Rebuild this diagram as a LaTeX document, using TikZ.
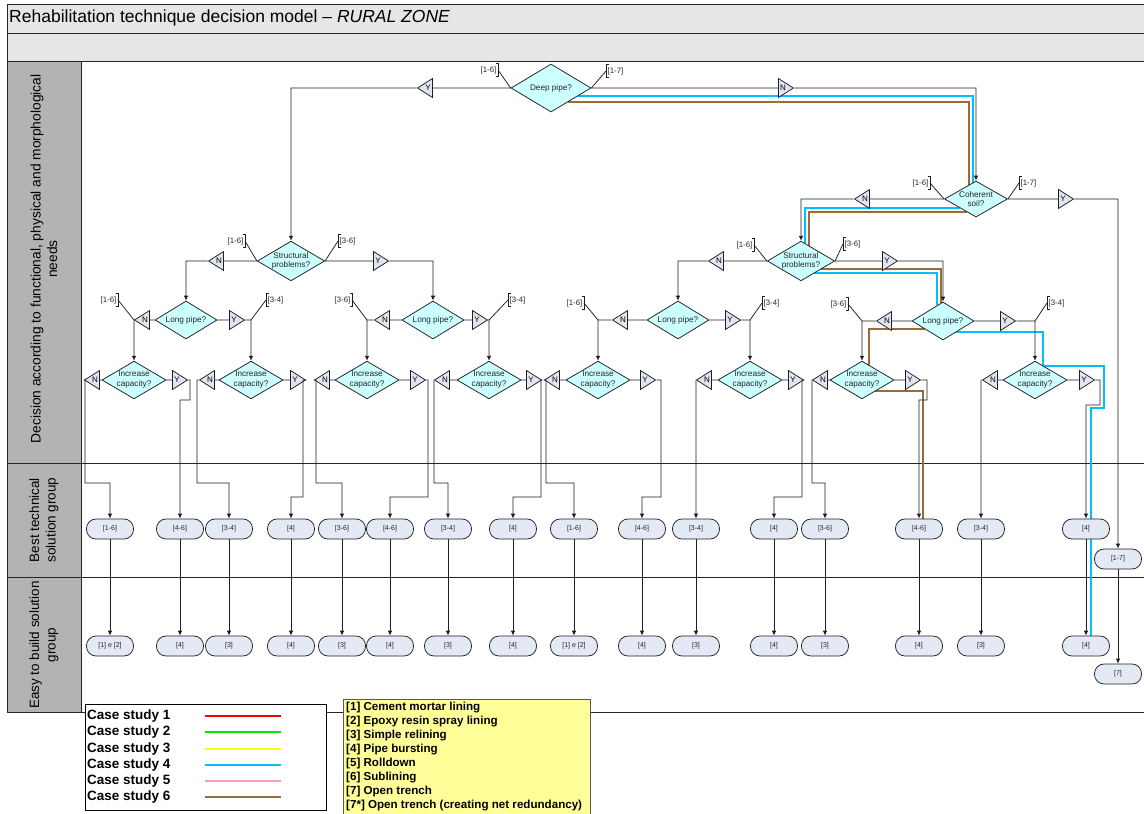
\documentclass[tikz,border=0pt]{standalone}
\usepackage{fontspec}
\setmainfont{Liberation Sans}
\usetikzlibrary{shapes.geometric,arrows.meta,calc}
\definecolor{titlegray}{HTML}{E6E6E6}
\definecolor{lanegray}{HTML}{B3B3B3}
\definecolor{diafill}{HTML}{CCFFFF}
\definecolor{trifill}{HTML}{E1E5F2}
\definecolor{boxfill}{HTML}{E4EAF5}
\definecolor{linegray}{HTML}{1F1F1F}
\definecolor{csred}{HTML}{FF0000}
\definecolor{csgreen}{HTML}{00E600}
\definecolor{csyellow}{HTML}{FFFF00}
\definecolor{csblue}{HTML}{00BFFF}
\definecolor{cspink}{HTML}{FF99CC}
\definecolor{csbrown}{HTML}{9C6A3A}
\definecolor{notefill}{HTML}{FFFF99}
\newcommand{\bkL}[4]{%
  \node[bk, anchor=east] (#1) at (#2) {#3};
  \draw[conn] ([xshift=-2.5pt]#1.north east) -- (#1.north east) -- (#1.south east) -- ([xshift=-2.5pt]#1.south east);
  \draw[conn] (#1.east) -- (#4);}
\newcommand{\bkR}[4]{%
  \node[bk, anchor=west] (#1) at (#2) {#3};
  \draw[conn] ([xshift=2.5pt]#1.north west) -- (#1.north west) -- (#1.south west) -- ([xshift=2.5pt]#1.south west);
  \draw[conn] (#1.west) -- (#4);}
\begin{document}
\begin{tikzpicture}[x=1pt,y=-1pt,
  dia/.style={diamond, aspect=1.7, draw=linegray, fill=diafill, line width=0.75pt, inner sep=0pt,
    minimum width=62pt, minimum height=37pt, align=center, text=black!85,
    font=\fontsize{8.2}{9.5}\selectfont},
  trL/.style={isosceles triangle, isosceles triangle stretches=true, shape border rotate=180,
    draw=linegray, fill=trifill, line width=0.75pt, minimum width=19pt, minimum height=15pt,
    inner sep=0pt, font=\fontsize{8}{8}\selectfont},
  trR/.style={trL, shape border rotate=0},
  sol/.style={rectangle, rounded corners=9.5pt, draw=linegray, fill=boxfill, line width=0.75pt,
    minimum width=47pt, minimum height=20pt, inner sep=0pt, font=\fontsize{7}{8}\selectfont, text=black!85},
  conn/.style={draw=linegray, line width=0.75pt},
  arr/.style={conn, -{Latex[length=5pt,width=4.5pt]}},
  bk/.style={inner xsep=1.5pt, inner ysep=0pt, minimum height=13pt, font=\fontsize{7.8}{8}\selectfont, text=black!85},
  frame/.style={draw=black!85, line width=0.9pt},
  case/.style={line width=2.4pt}
]
\useasboundingbox (0,0) rectangle (1144,814);
\fill[white] (0,0) rectangle (1144,814);
% ---- frame ----
\fill[titlegray] (7,4) rectangle (1146,61);
\fill[lanegray] (7,61) rectangle (81,712);
\draw[frame] (7,4) rectangle (1146,33);
\draw[frame] (7,33) rectangle (1146,61);
\draw[frame] (7,61) -- (7,712) -- (1146,712);
\draw[frame] (81,61) -- (81,712);
\draw[frame] (7,463) -- (1146,463);
\draw[frame] (7,577) -- (1146,577);
\node[anchor=west, inner sep=0pt, font=\fontsize{17.5}{19}\selectfont] (title) at (9,18)
  {Rehabilitation technique decision model – \textit{RURAL ZONE}};
\node[rotate=90, align=center, font=\fontsize{13.8}{16.5}\selectfont] (h1) at (44,259)
  {Decision according to functional, physical and morphological\\needs};
\node[rotate=90, align=center, font=\fontsize{13.5}{16.5}\selectfont] (h2) at (44,520)
  {Best technical\\solution group};
\node[rotate=90, align=center, font=\fontsize{13.5}{16.5}\selectfont] (h3) at (44,645)
  {Easy to build solution\\group};
% ---- case study paths ----
\draw[case, csblue] (578,96) -- (973,96) -- (973,183);
\draw[case, csblue] (960,208) -- (805,208) -- (805,245);
\draw[case, csblue] (814,273) -- (937,273) -- (937,305);
\draw[case, csblue] (956,332) -- (1043,332) -- (1043,366) -- (1104,366) -- (1104,408) -- (1091,408) -- (1091,636);
\draw[case, csbrown] (568,102) -- (969,102) -- (969,186);
\draw[case, csbrown] (967,212) -- (809,212) -- (809,247);
\draw[case, csbrown] (820,269) -- (941,269) -- (941,303);
\draw[case, csbrown] (925,329) -- (869,329) -- (869,366);
\draw[case, csbrown] (874,391) -- (923,391) -- (923,519);
% ---- decision diamonds ----
\node[dia, minimum width=80pt, minimum height=48pt] (deep) at (551,88) {Deep pipe?};
\node[dia, minimum width=63pt, minimum height=36pt] (coh) at (976,199) {Coherent\\soil?};
\node[dia, minimum height=38pt] (sp1) at (291,261) {Structural\\problems?};
\node[dia, minimum height=38pt] (sp2) at (801,261) {Structural\\problems?};
\node[dia, minimum height=38pt] (lp1) at (186,320) {Long pipe?};
\node[dia, minimum height=38pt] (lp2) at (433,320) {Long pipe?};
\node[dia, minimum height=38pt] (lp3) at (678,320) {Long pipe?};
\node[dia, minimum height=38pt] (lp4) at (943,321) {Long pipe?};
\foreach \i/\x in {1/134,2/251,3/367,4/489,5/598,6/750,7/862,8/1035}
  \node[dia, font=\fontsize{8.2}{10}\selectfont] (ic\i) at (\x,380) {Increase\\capacity?};
% ---- Y / N triangles ----
\node[trL] (tdY) at (428,88) {Y};
\node[trR] (tdN) at (783,88) {N};
\node[trL] (tcN) at (865,199) {N};
\node[trR] (tcY) at (1063,199) {Y};
\node[trL] (ts1N) at (219,261) {N};
\node[trR] (ts1Y) at (378,261) {Y};
\node[trL] (ts2N) at (719,261) {N};
\node[trR] (ts2Y) at (887,261) {Y};
\node[trL] (tl1N) at (145,320) {N};
\node[trR] (tl1Y) at (234,320) {Y};
\node[trL] (tl2N) at (385,320) {N};
\node[trR] (tl2Y) at (477,320) {Y};
\node[trL] (tl3N) at (623,320) {N};
\node[trR] (tl3Y) at (730,320) {Y};
\node[trL] (tl4N) at (887,321) {N};
\node[trR] (tl4Y) at (1005,321) {Y};
\foreach \i/\n/\y in {1/95/177,2/210/295,3/325/415,4/445/531,5/555/645,6/707/793,7/823/910,8/993/1084}{
  \node[trL] (ti\i N) at (\n,380) {N};
  \node[trR] (ti\i Y) at (\y,380) {Y};
}
% ---- solution boxes ----
\foreach \i/\x/\t/\u in {1/110/{[1-6]}/{[1] e [2]},2/180/{[4-6]}/{[4]},3/229/{[3-4]}/{[3]},
  4/291/{[4]}/{[4]},5/342/{[3-6]}/{[3]},6/390/{[4-6]}/{[4]},7/448/{[3-4]}/{[3]},8/513/{[4]}/{[4]},
  9/574/{[1-6]}/{[1] e [2]},10/642/{[4-6]}/{[4]},11/696/{[3-4]}/{[3]},12/774/{[4]}/{[4]},
  13/825/{[3-6]}/{[3]},14/919/{[4-6]}/{[4]},15/981/{[3-4]}/{[3]},16/1086/{[4]}/{[4]}}{
  \node[sol] (b\i) at (\x,529) {\t};
  \node[sol] (c\i) at (\x,646) {\u};
  \draw[arr] (b\i) -- (c\i);
}
\node[sol] (b17) at (1118,559) {[1-7]};
\node[sol] (c17) at (1118,674) {[7]};
\draw[arr] (b17) -- (c17);
% ---- junctions ----
\coordinate (j1n) at (lp1 -| ic1);
\coordinate (j1y) at (lp1 -| ic2);
\coordinate (j2n) at (lp2 -| ic3);
\coordinate (j2y) at (lp2 -| ic4);
\coordinate (j3n) at (lp3 -| ic5);
\coordinate (j3y) at (lp3 -| ic6);
\coordinate (j4n) at (lp4 -| ic7);
\coordinate (j4y) at (lp4 -| ic8);
% ---- connectors ----
\draw[arr] (deep.west) -- (tdY) -- (deep -| sp1) -- (sp1.north);
\draw[arr] (deep.east) -- (tdN) -- (deep -| coh) -- (coh.north);
\draw[arr] (coh.west) -- (tcN) -- (coh -| sp2) -- (sp2.north);
\draw[arr] (coh.east) -- (tcY) -- (coh -| b17) -- (b17.north);
\draw[arr] (sp1.west) -- (ts1N) -- (sp1 -| lp1) -- (lp1.north);
\draw[arr] (sp1.east) -- (ts1Y) -- (sp1 -| lp2) -- (lp2.north);
\draw[arr] (sp2.west) -- (ts2N) -- (sp2 -| lp3) -- (lp3.north);
\draw[arr] (sp2.east) -- (ts2Y) -- (sp2 -| lp4) -- (lp4.north);
\draw[arr] (lp1.west) -- (tl1N) -- (j1n) -- (ic1.north);
\draw[arr] (lp1.east) -- (tl1Y) -- (j1y) -- (ic2.north);
\draw[arr] (lp2.west) -- (tl2N) -- (j2n) -- (ic3.north);
\draw[arr] (lp2.east) -- (tl2Y) -- (j2y) -- (ic4.north);
\draw[arr] (lp3.west) -- (tl3N) -- (j3n) -- (ic5.north);
\draw[arr] (lp3.east) -- (tl3Y) -- (j3y) -- (ic6.north);
\draw[arr] (lp4.west) -- (tl4N) -- (j4n) -- (ic7.north);
\draw[arr] (lp4.east) -- (tl4Y) -- (j4y) -- (ic8.north);
\draw[arr] (ic1.west) -- (ti1N) -- (85,380) -- (85,483) -| (b1.north);
\draw[arr] (ic1.east) -- (ti1Y) -- (190,380) -- (190,400) -| (b2.north);
\draw[arr] (ic2.west) -- (ti2N) -- (197,380) -- (197,483) -| (b3.north);
\draw[arr] (ic2.east) -- (ti2Y) -- (303,380) -- (303,497) -| (b4.north);
\draw[arr] (ic3.west) -- (ti3N) -- (316,380) -- (316,483) -| (b5.north);
\draw[arr] (ic3.east) -- (ti3Y) -- (428,380) -- (428,497) -| (b6.north);
\draw[arr] (ic4.west) -- (ti4N) -- (434,380) -- (434,483) -| (b7.north);
\draw[arr] (ic4.east) -- (ti4Y) -- (541,380) -- (541,497) -| (b8.north);
\draw[arr] (ic5.west) -- (ti5N) -- (546,380) -- (546,483) -| (b9.north);
\draw[arr] (ic5.east) -- (ti5Y) -- (661,380) -- (661,497) -| (b10.north);
\draw[arr] (ic6.west) -- (ti6N) -- (ic6 -| b11) -- (b11.north);
\draw[arr] (ic6.east) -- (ti6Y) -- (802,380) -- (802,497) -| (b12.north);
\draw[arr] (ic7.west) -- (ti7N) -- (812,380) -- (812,483) -| (b13.north);
\draw[arr] (ic7.east) -- (ti7Y) -- (927,380) -- (927,400) -| (b14.north);
\draw[arr] (ic8.west) -- (ti8N) -- (ic8 -| b15) -- (b15.north);
\draw[arr] (ic8.east) -- (ti8Y) -- (1100,380) -- (1100,405) -| (b16.north);
% ---- bracket labels ----
\bkL{la1}{498,70}{[1-6]}{deep.west}
\bkL{la2}{930,183}{[1-6]}{coh.west}
\bkL{la3}{245,241}{[1-6]}{sp1.west}
\bkL{la4}{754,245}{[1-6]}{sp2.west}
\bkL{la5}{118,300}{[1-6]}{j1n}
\bkL{la6}{352,300}{[3-6]}{j2n}
\bkL{la7}{584,303}{[1-6]}{j3n}
\bkL{la8}{848,304}{[3-6]}{j4n}
\bkR{lb1}{606,71}{[1-7]}{deep.east}
\bkR{lb2}{1019,183}{[1-7]}{coh.east}
\bkR{lb3}{338,241}{[3-6]}{sp1.east}
\bkR{lb4}{843,244}{[3-6]}{sp2.east}
\bkR{lb5}{266,300}{[3-4]}{j1y}
\bkR{lb6}{508,300}{[3-4]}{j2y}
\bkR{lb7}{762,303}{[3-4]}{j3y}
\bkR{lb8}{1047,303}{[3-4]}{j4y}
% ---- legend ----
\node[draw=black, fill=white, line width=0.8pt, anchor=north west, inner sep=0pt,
  minimum width=241pt, minimum height=106pt] (legend) at (85,704) {};
\foreach \i/\c in {1/csred,2/csgreen,3/csyellow,4/csblue,5/cspink,6/csbrown}{
  \node[anchor=west, inner sep=0pt, font=\bfseries\fontsize{13.5}{14}\selectfont] (cs\i) at (87,{700+16.2*\i}) {Case study \i};
  \draw[\c, line width=2pt] (205,{700+16.2*\i}) -- (281,{700+16.2*\i});
}
\node[draw=black!65, fill=notefill, line width=0.8pt, anchor=north west, inner sep=0pt,
  minimum width=247pt, minimum height=125pt] (note) at (343,699) {};
\foreach \k/\t in {0/{[1] Cement mortar lining},1/{[2] Epoxy resin spray lining},2/{[3] Simple relining},
  3/{[4] Pipe bursting},4/{[5] Rolldown},5/{[6] Sublining},6/{[7] Open trench},
  7/{[7*] Open trench (creating net redundancy)}}{
  \node[anchor=west, inner sep=0pt, font=\bfseries\fontsize{11.6}{12}\selectfont] (n\k) at (346,{707.5+14*\k}) {\t};
}
\end{tikzpicture}
\end{document}
